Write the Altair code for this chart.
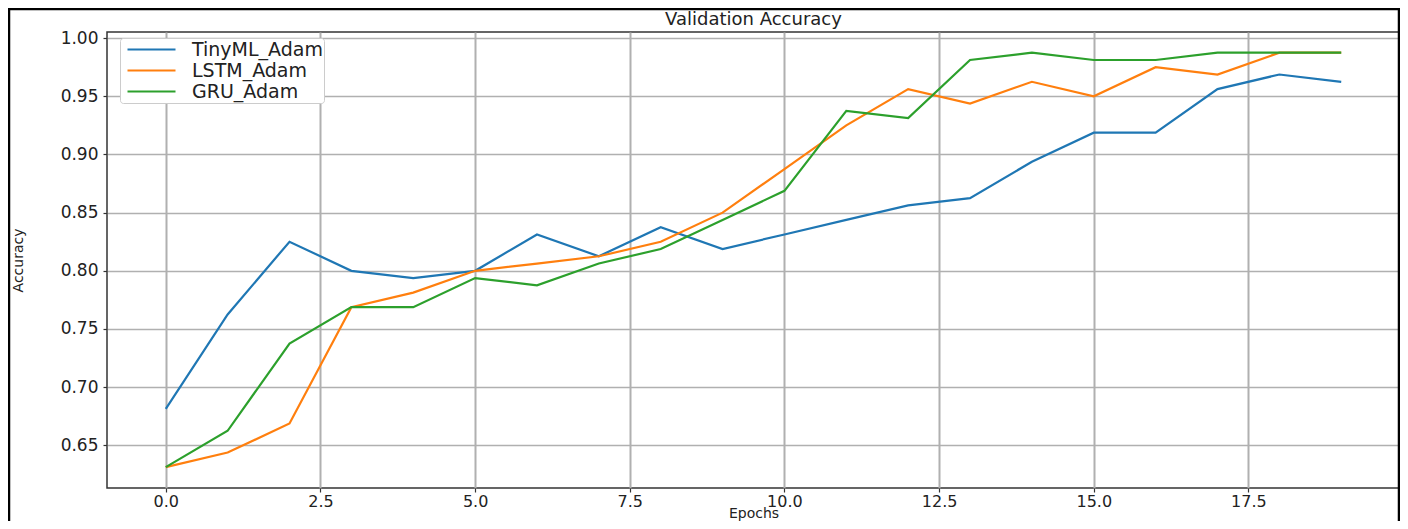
import altair as alt
import pandas as pd

epochs = list(range(20))
tinyml_adam = [0.68125, 0.7625, 0.825, 0.80, 0.79375, 0.80, 0.83125, 0.8125, 0.8375, 0.81875,
               0.83125, 0.84375, 0.85625, 0.8625, 0.89375, 0.91875, 0.91875, 0.95625, 0.96875, 0.9625]
lstm_adam = [0.63125, 0.64375, 0.66875, 0.76875, 0.78125, 0.80, 0.80625, 0.8125, 0.825, 0.85,
             0.8875, 0.925, 0.95625, 0.94375, 0.9625, 0.95, 0.975, 0.96875, 0.9875, 0.9875]
gru_adam = [0.63125, 0.6625, 0.7375, 0.76875, 0.76875, 0.79375, 0.7875, 0.80625, 0.81875, 0.84375,
            0.86875, 0.9375, 0.93125, 0.98125, 0.9875, 0.98125, 0.98125, 0.9875, 0.9875, 0.9875]

series_names = ["TinyML_Adam", "LSTM_Adam", "GRU_Adam"]
series_values = [tinyml_adam, lstm_adam, gru_adam]
series_colors = ["#1f77b4", "#ff7f0e", "#2ca02c"]
x_ticks = [0.0, 2.5, 5.0, 7.5, 10.0, 12.5, 15.0, 17.5]
y_ticks = [0.65, 0.70, 0.75, 0.80, 0.85, 0.90, 0.95, 1.00]

FONT = "DejaVu Sans"

x_scale = alt.Scale(domain=[-0.95, 19.95], nice=False, zero=False)
y_scale = alt.Scale(domain=[0.6133, 1.0053], nice=False, zero=False)
color_scale = alt.Scale(domain=series_names, range=series_colors)

layers = []
for i, (name, vals) in enumerate(zip(series_names, series_values)):
    df = pd.DataFrame({"Epoch": epochs, "Accuracy": vals, "Model": [name] * len(epochs)})
    enc = dict(
        x=alt.X("Epoch:Q", scale=x_scale,
                axis=alt.Axis(values=x_ticks, format=".1f", title="Epochs",
                              titleY=29.5, titleBaseline="alphabetic", titleFontSize=14,
                              titleFontWeight="normal")),
        y=alt.Y("Accuracy:Q", scale=y_scale,
                axis=alt.Axis(values=y_ticks, format=".2f", title="Accuracy",
                              titleX=-89, titleBaseline="middle", titleFontSize=14,
                              titleFontWeight="normal")),
        color=alt.Color("Model:N", scale=color_scale,
                        legend=alt.Legend(orient="none", legendX=13, legendY=6, title=None,
                                          symbolType="M-2.667,0H2.667", symbolSize=324,
                                          symbolStrokeWidth=2.2, symbolOffset=20,
                                          labelFontSize=19,
                                          labelFont=FONT, labelColor="#222",
                                          fillColor="white", strokeColor="#cccccc",
                                          padding=1, cornerRadius=3, labelOffset=30,
                                          rowPadding=0)),
    )
    layers.append(alt.Chart(df).mark_line(strokeWidth=2.2).encode(**enc))

frame = alt.Chart(pd.DataFrame({"f": [0]})).mark_rect(
    fill="transparent", stroke="black", strokeWidth=2.5
).encode(x=alt.value(-98), x2=alt.value(1292), y=alt.value(-23), y2=alt.value(520))

chart = alt.layer(*layers, frame).properties(
    width=1293, height=456,
    title=alt.Title("Validation Accuracy", fontSize=18, font=FONT, fontWeight="normal",
                    color="#222", offset=-21, anchor="middle", frame="group"),
    autosize=alt.AutoSizeParams(type="none"),
    padding={"left": 99, "top": 24, "right": 0, "bottom": 33},
).configure_view(
    stroke="#333", strokeWidth=1.5
).configure_axis(
    labelFont=FONT, labelFontSize=17, labelColor="#222",
    titleFont=FONT, titleColor="#222",
    tickColor="#333", tickSize=4, tickWidth=1.2,
    domain=False, gridColor="#b0b0b0",
    labelPadding=2,
).configure_axisX(
    gridWidth=2, labelFontSize=16, labelPadding=1,
).configure_axisY(
    gridWidth=1.3, labelPadding=5,
)

chart.save("out.html", embed_options={"renderer": "svg", "actions": False})
